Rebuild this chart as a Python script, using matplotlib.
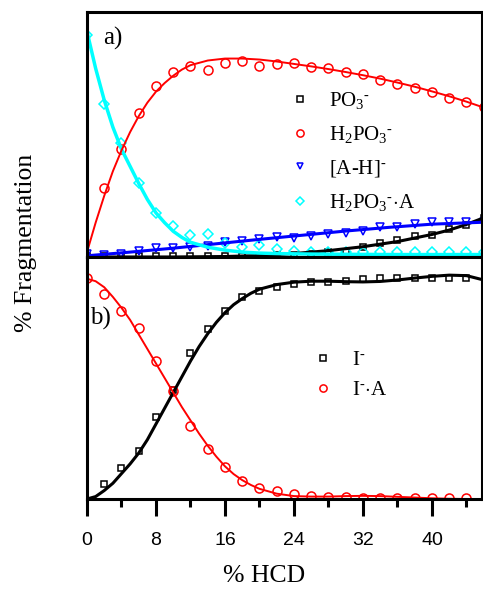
import matplotlib
matplotlib.use("Agg")
import matplotlib.pyplot as plt
import numpy as np

plt.rcParams['mathtext.fontset'] = 'custom'
plt.rcParams['mathtext.rm'] = 'Liberation Serif'
plt.rcParams['mathtext.it'] = 'Liberation Serif:italic'

# ---------------- data: panel a ----------------
xa = [0, 2, 4, 6, 8, 10, 12, 14, 16, 18, 20, 22, 24, 26, 28, 30, 32, 34, 36, 38, 40, 42, 44, 46]
po3 = [0.5, 0.3, 0.3, 0.3, 0.4, 0.5, 0.5, 0.5, 0.5, 0.6, 0.6, 0.8, 0.8, 1.2, 2.0, 2.2, 4.0, 5.7, 7.0, 8.5, 9.0, 11.6, 13.0, 15.9]
h2po3 = [None, 28.2, 44.1, 58.8, 69.8, 75.5, 78.0, 76.3, 79.2, 80.0, 78.0, 78.8, 79.2, 77.6, 77.1, 75.5, 74.7, 72.2, 70.6, 69.0, 67.3, 64.9, 63.3, 61.2]
ah = [1.2, 0.8, 1.2, 2.4, 3.7, 3.5, 4.0, 4.5, 6.0, 6.5, 7.3, 8.2, 7.8, 8.6, 9.4, 9.8, 10.6, 12.2, 12.2, 13.5, 14.3, 14.3, 14.3, 14.3]
h2po3a = [90.6, 62.4, 46.5, 30.2, 18.0, 12.7, 9.0, 9.4, 5.7, 4.0, 4.9, 3.3, 2.4, 2.0, 2.0, 2.0, 2.0, 2.0, 2.0, 2.0, 2.0, 2.0, 2.0, 2.0]

# fit curves, panel a
fx_h2po3 = [0, 1, 2, 3, 4, 5, 6, 7, 8, 9, 10, 11, 12, 14, 16, 18, 20, 22, 24, 26, 28, 30, 32, 34, 36, 38, 40, 42, 44, 46]
fy_h2po3 = [2, 14, 25, 35, 43.5, 51, 57.5, 63, 67.5, 71, 74, 76.5, 78.3, 80.2, 81, 81, 80.6, 79.8, 78.8, 77.8, 76.7, 75.5, 74.2, 72.8, 71.2, 69.5, 67.6, 65.6, 63.4, 61]
fx_h2po3a = [0, 1, 2, 3, 4, 5, 6, 7, 8, 9, 10, 11, 12, 13, 14, 16, 18, 20, 22, 26, 30, 36, 46]
fy_h2po3a = [92, 77, 64, 53, 44, 37, 30, 23.5, 18, 14, 10.5, 8, 6, 5, 4, 2.8, 2, 1.6, 1.4, 1.2, 1.1, 1.0, 1.0]
fx_ah = [0, 5, 10, 15, 20, 25, 30, 35, 40, 46]
fy_ah = [0.5, 2.0, 3.6, 5.4, 7.2, 8.9, 10.6, 12.1, 13.4, 14.2]
fx_po3 = [0, 10, 16, 20, 24, 28, 32, 36, 40, 42, 44, 46]
fy_po3 = [0, 0, 0.2, 0.6, 1.4, 2.6, 4.2, 6.3, 9.2, 11.0, 13.3, 16.0]

# ---------------- data: panel b ----------------
xb = [0, 2, 4, 6, 8, 10, 12, 14, 16, 18, 20, 22, 24, 26, 28, 30, 32, 34, 36, 38, 40, 42, 44]
iminus = [None, 6.2, 12.8, 19.8, 33.9, 45.0, 60.3, 70.2, 77.7, 83.5, 86.0, 87.6, 88.8, 89.6, 89.6, 90.0, 90.9, 91.3, 91.5, 91.5, 91.3, 91.3, 91.3]
ia = [91.3, 84.7, 77.7, 70.7, 57.0, 44.6, 30.2, 20.7, 13.2, 7.4, 4.5, 3.3, 2.0, 1.2, 1.0, 1.0, 0.5, 0.4, 0.3, 0.3, 0.3, 0.3, 0.3]

fx_b = [0, 1, 2, 3, 4, 5, 6, 7, 8, 9, 10, 11, 12, 13, 14, 15, 16, 17, 18, 19, 20, 22, 24, 26, 28, 30, 32, 34, 36, 38, 40, 42, 44, 46]
fy_ia = [91, 90, 87.5, 83.5, 79, 74, 68, 62, 56, 50, 44, 38, 32.5, 27, 22, 17.5, 13.5, 10.3, 7.8, 5.8, 4.2, 2.2, 1.2, 1.0, 1.0, 1.2, 1.3, 1.2, 0.9, 0.6, 0.3, 0.1, 0, 0]
fy_im = [0, 1, 3.5, 6.5, 10.5, 14.5, 19, 24.5, 31, 37.5, 44, 50.5, 57, 63, 68.3, 73, 77, 80.3, 82.8, 85, 86.7, 88.6, 89.6, 90, 90, 89.8, 89.7, 89.9, 90.5, 91.3, 92, 92.5, 92.3, 90.5]

xticks_major = [0, 8, 16, 24, 32, 40]
xticks_minor = [4, 12, 20, 28, 36, 44]

labels_a = [r'PO$_3$$^{\text{-}}$', r'H$_2$PO$_3$$^{\text{-}}$', r'[A-H]$^{\text{-}}$', r'H$_2$PO$_3$$^{\text{-}}$$\cdot$A']
labels_b = [r'I$^{\text{-}}$', r'I$^{\text{-}}$$\cdot$A']

RED = '#ff0000'
BLUE = '#0000ff'
CYAN = '#00ffff'
BLACK = '#000000'

fig = plt.figure(figsize=(4.83, 5.90), dpi=100)
L = 87 / 483
W = 395 / 483
axa = fig.add_axes([L, (590 - 257) / 590, W, 245 / 590])
axb = fig.add_axes([L, (590 - 499) / 590, W, 242 / 590])

def nn(x, y):
    xs = [a for a, b in zip(x, y) if b is not None]
    ys = [b for b in y if b is not None]
    return xs, ys

mk = dict(linestyle='none', markerfacecolor='none', markeredgewidth=1.1)

# panel a
h1, = axa.plot(*nn(xa, po3), marker='s', markersize=5, color=BLACK, **mk)
h2, = axa.plot(*nn(xa, h2po3), marker='o', markersize=6.5, color=RED, **mk)
h3, = axa.plot(*nn(xa, ah), marker='v', markersize=6, color=BLUE, **mk)
h4, = axa.plot(*nn(xa, h2po3a), marker='D', markersize=5, color=CYAN, **mk)
axa.plot(fx_po3, fy_po3, color=BLACK, lw=2.2)
axa.plot(fx_ah, fy_ah, color=BLUE, lw=2.2)
axa.plot(fx_h2po3a, fy_h2po3a, color=CYAN, lw=2.5)
axa.plot(fx_h2po3, fy_h2po3, color=RED, lw=1.4)

# panel b
g1, = axb.plot(*nn(xb, iminus), marker='s', markersize=5, color=BLACK, **mk)
g2, = axb.plot(*nn(xb, ia), marker='o', markersize=6.5, color=RED, **mk)
axb.plot(fx_b, fy_im, color=BLACK, lw=2.2)
axb.plot(fx_b, fy_ia, color=RED, lw=1.4)

for ax in (axa, axb):
    ax.set_xlim(0, 45.8)
    ax.set_ylim(0, 100)
    ax.set_xticks(xticks_major)
    ax.set_xticks(xticks_minor, minor=True)
    ax.tick_params(axis='x', which='major', direction='out', length=12, width=2.2, pad=12)
    ax.tick_params(axis='x', which='minor', direction='out', length=6, width=2.2)
    ax.tick_params(axis='y', which='both', left=False, labelleft=False)
    for s in ax.spines.values():
        s.set_linewidth(2.2)
    for lab in ax.get_xticklabels():
        lab.set_fontfamily('Liberation Sans')
        lab.set_fontsize(14)

axa.tick_params(axis='x', labelbottom=False)

serif = 'Liberation Serif'
axa.text(0.04, 0.894, 'a)', transform=axa.transAxes, fontfamily=serif, fontsize=18, va='center', ha='left')
axb.text(0.008, 0.748, 'b)', transform=axb.transAxes, fontfamily=serif, fontsize=18, va='center', ha='left')

leg_a = axa.legend([h1, h2, h3, h4], labels_a,
                   loc='upper left', bbox_to_anchor=(0.513, 0.681), frameon=False,
                   prop={'family': serif, 'size': 15}, handlelength=1.0, handletextpad=0.9,
                   labelspacing=0.62, borderpad=0, borderaxespad=0, markerscale=0.8)

leg_b = axb.legend([g1, g2], labels_b,
                   loc='upper left', bbox_to_anchor=(0.571, 0.612), frameon=False,
                   prop={'family': serif, 'size': 15}, handlelength=1.0, handletextpad=0.9,
                   labelspacing=0.5, borderpad=0, borderaxespad=0, markerscale=0.8)

fig.text(264 / 483, 1 - 576 / 590, '% HCD', fontfamily=serif, fontsize=18.5, ha='center', va='center')
fig.text(26 / 483, 1 - 243 / 590, '% Fragmentation', fontfamily=serif, fontsize=18.5, ha='center', va='center', rotation=90)

fig.savefig('out.png', dpi=100)
